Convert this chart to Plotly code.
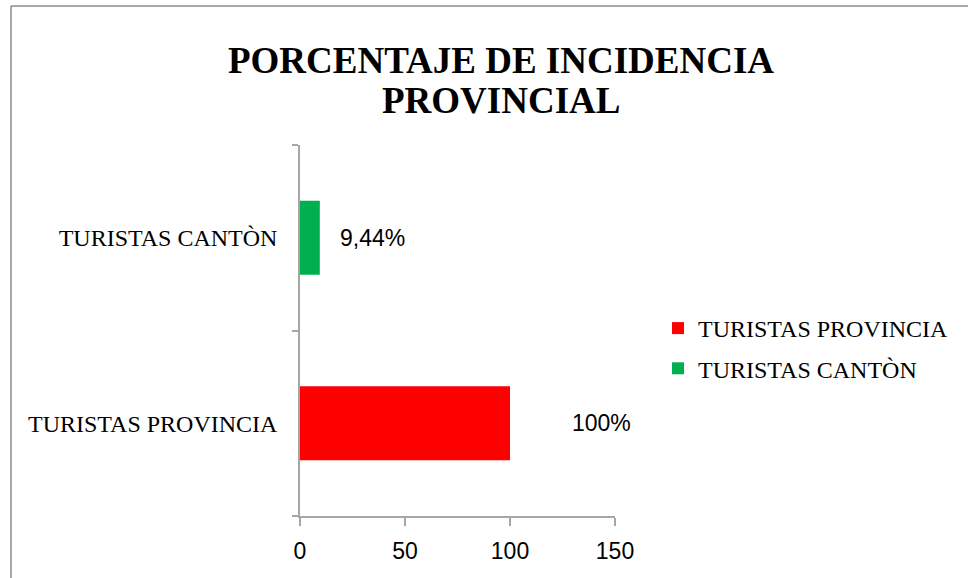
import plotly.graph_objects as go

categories = ["TURISTAS PROVINCIA", "TURISTAS CANTÒN"]
values = [100, 9.44]
value_labels = ["100%", "9,44%"]
colors = ["#FF0000", "#00B050"]
label_shift = [60, 18]

x_ticks = [0, 50, 100, 150]
title_lines = ["PORCENTAJE DE INCIDENCIA", "PROVINCIAL"]

fig = go.Figure()
for cat, val, col in zip(categories, values, colors):
    fig.add_trace(go.Bar(
        y=[cat], x=[val], name=cat, orientation="h", legendgroup=cat,
        marker=dict(color=col, line=dict(width=0)),
        width=0.4, hoverinfo="skip",
    ))

for cat, val, lab, sh in zip(categories, values, value_labels, label_shift):
    fig.add_annotation(
        x=val, y=cat, text=lab, showarrow=False, xanchor="left", xshift=sh,
        font=dict(family="Liberation Sans, Arial, sans-serif", size=23, color="#000000"),
    )

L, R, T, B = 300, 353, 145, 62
W, H = 968, 578
pw, ph = W - L - R, H - T - B

def px(x):
    return (x - L) / pw

def py(y):
    return (H - B - y) / ph

title_font = dict(family="Liberation Serif, Times New Roman, serif", size=37, color="#000000")
fig.add_annotation(
    xref="paper", yref="paper", x=px(501), y=py(100), xanchor="center", yanchor="middle",
    text="<b>" + title_lines[1] + "</b>", showarrow=False, font=title_font,
)

border = dict(color="#8c8c8c", width=1.5)
fig.add_shape(type="line", xref="paper", yref="paper", x0=px(11), x1=px(968), y0=py(6), y1=py(6), line=border)
fig.add_shape(type="line", xref="paper", yref="paper", x0=px(11), x1=px(11), y0=py(6), y1=py(578), line=border)

fig.update_layout(
    width=W, height=H,
    margin=dict(l=L, r=R, t=T, b=B),
    paper_bgcolor="white", plot_bgcolor="white",
    barmode="overlay",
    hovermode=False,
    title=dict(
        text="<b>" + title_lines[0] + "</b>",
        x=501 / W, xanchor="center", xref="container",
        y=1 - 60 / H, yanchor="middle", yref="container",
        font=title_font,
    ),
    xaxis=dict(
        range=[0, 150], tickvals=x_ticks, ticktext=[str(t) for t in x_ticks],
        showgrid=False, zeroline=False,
        showline=True, linecolor="#a6a6a6", linewidth=1.5,
        ticks="outside", ticklen=8, tickcolor="#a6a6a6", tickwidth=1.5,
        ticklabelstandoff=6,
        tickfont=dict(family="Liberation Sans, Arial, sans-serif", size=23, color="#000000"),
        fixedrange=True,
    ),
    yaxis=dict(
        categoryorder="array", categoryarray=categories,
        range=[-0.5, 1.5],
        showgrid=False, zeroline=False,
        showline=True, linecolor="#a6a6a6", linewidth=1.5,
        ticks="outside", ticklen=6, tickcolor="#a6a6a6", tickwidth=1.5,
        tickson="boundaries", ticklabelstandoff=16,
        tickfont=dict(family="Liberation Serif, Times New Roman, serif", size=24, color="#000000"),
        fixedrange=True,
    ),
    legend=dict(
        x=px(658), xanchor="left", y=py(306), yanchor="top",
        traceorder="grouped",
        font=dict(family="Liberation Serif, Times New Roman, serif", size=24, color="#000000"),
        itemwidth=30, tracegroupgap=6, bgcolor="rgba(0,0,0,0)",
    ),
    showlegend=True,
)

fig.write_html("out.html", config={"displayModeBar": False},
               post_script="document.body.style.margin='0px';")
